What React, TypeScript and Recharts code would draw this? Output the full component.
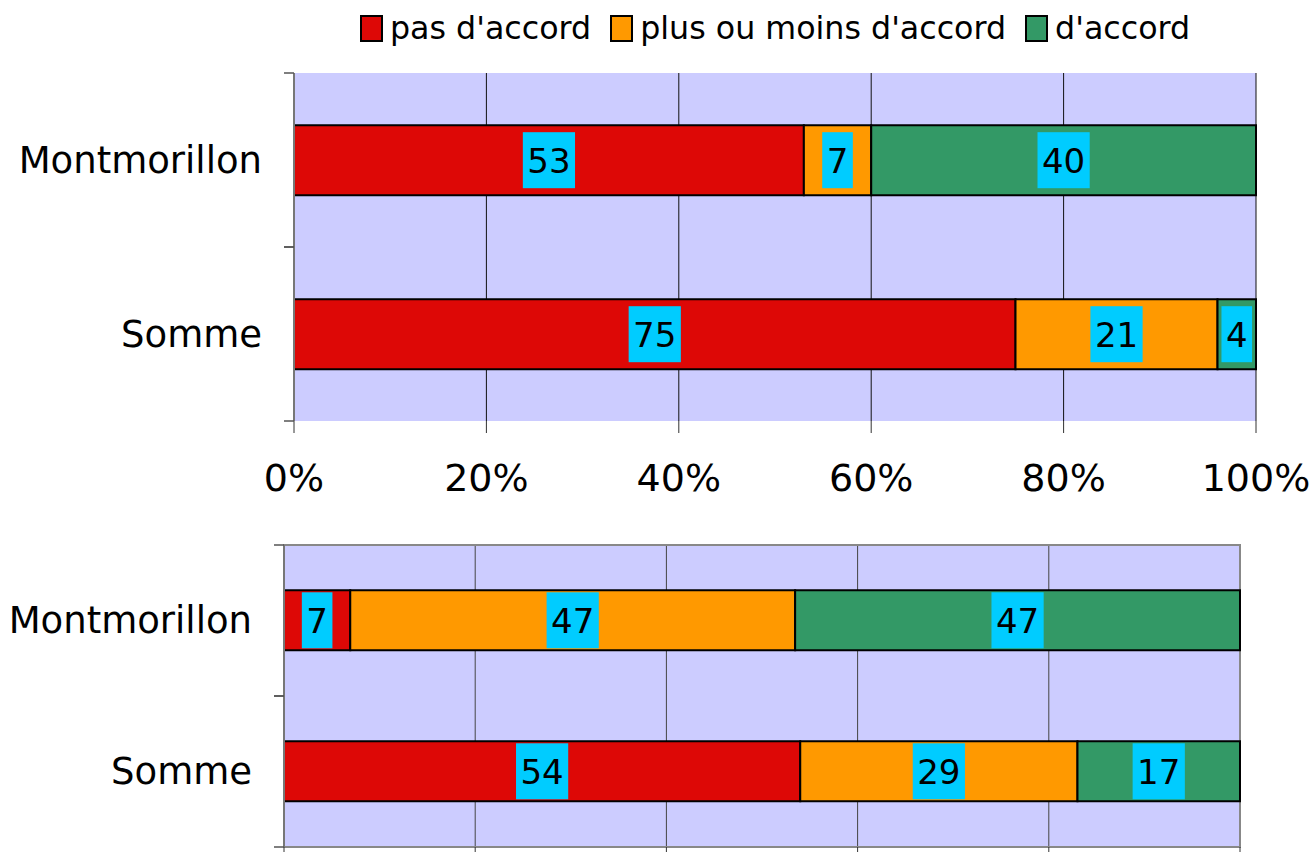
import React from 'react';
import { BarChart, Bar, XAxis, YAxis, CartesianGrid, LabelList, Legend, ReferenceArea } from 'recharts';

const categories = ['Montmorillon', 'Somme'];
const seriesNames = ["pas d'accord", "plus ou moins d'accord", "d'accord"];
const seriesColors = ['#DD0806', '#FF9900', '#339966'];

// top chart
const topPas = [53, 75];
const topPlus = [7, 21];
const topAccord = [40, 4];

// bottom chart
const botPas = [7, 54];
const botPlus = [47, 29];
const botAccord = [47, 17];

const pctTicks = [0, 0.2, 0.4, 0.6, 0.8, 1];

const FONT = '"DejaVu Sans", Verdana, sans-serif';

const buildRows = (a: number[], b: number[], c: number[]) =>
    categories.map((name, i) => ({ name, pas: a[i], plus: b[i], accord: c[i] }));

const topData = buildRows(topPas, topPlus, topAccord);
const botData = buildRows(botPas, botPlus, botAccord);
const keys = ['pas', 'plus', 'accord'];

const ValueBox = (props: any) => {
    const { x, y, width, height, value } = props;
    const text = String(value);
    const w = text.length * 21.6 + 9;
    const h = 56;
    const cx = x + width / 2;
    const cy = y + height / 2;
    return (
        <g>
            <rect x={cx - w / 2} y={cy - h / 2} width={w} height={h} fill="#00CCFF" />
            <text x={cx} y={cy + 1} textAnchor="middle" dominantBaseline="central" fontSize={34} fontFamily={FONT} fill="#000">
                {text}
            </text>
        </g>
    );
};

// category label + small tick marks on the band edges (Excel style)
const CatTick = (props: any) => {
    const { x, y, payload } = props;
    const half = payload && payload.offset ? payload.offset : 0;
    return (
        <g>
            <line x1={x - 10} x2={x} y1={y - half} y2={y - half} stroke="#555" strokeWidth={1.5} />
            <line x1={x - 10} x2={x} y1={y + half} y2={y + half} stroke="#555" strokeWidth={1.5} />
            <text x={x - 32} y={y} textAnchor="end" dominantBaseline="central" fontSize={37} fontFamily={FONT} fill="#000">
                {payload.value}
            </text>
        </g>
    );
};

// bottom chart labels fall outside the page in the reference
const NoLabel = () => <g />;

const LegendBox = () => (
    <div style={{ display: 'flex', alignItems: 'center', fontFamily: FONT, fontSize: 31.7, color: '#000', whiteSpace: 'nowrap' }}>
        {seriesNames.map((s, i) => (
            <div key={s} style={{ display: 'flex', alignItems: 'center', marginRight: 19 }}>
                <span style={{ display: 'inline-block', width: 19, height: 23, background: seriesColors[i], border: '2px solid #000', marginRight: 7 }} />
                <span>{s}</span>
            </div>
        ))}
    </div>
);

const pct = (v: number) => `${Math.round(v * 100)}%`;

function renderBars() {
    return keys.map((k, i) => (
        <Bar key={k} dataKey={k} name={seriesNames[i]} stackId="s" fill={seriesColors[i]} stroke="#000" strokeWidth={2} isAnimationActive={false}>
            <LabelList dataKey={k} content={ValueBox} />
        </Bar>
    ));
}

export default function App() {
    return (
        <div style={{ position: 'absolute', left: 0, top: 0, width: 1315, height: 852, overflow: 'hidden', background: '#fff' }}>
            <div style={{ position: 'absolute', left: 0, top: 0 }}>
                <BarChart width={1315} height={500} data={topData} layout="vertical" stackOffset="expand" barCategoryGap="30%"
                    margin={{ top: 73, right: 59, bottom: 0, left: 0 }}>
                    <CartesianGrid horizontal={false} fill="#CCCCFF" stroke="#111" />
                    <XAxis type="number" domain={[0, 1]} ticks={pctTicks} tickFormatter={pct} height={79}
                        axisLine={false} tickLine={{ stroke: '#333' }} tickSize={12} tickMargin={31}
                        tick={{ fontSize: 38, fill: '#000', fontFamily: FONT }} />
                    <YAxis type="category" dataKey="name" width={294} axisLine={{ stroke: '#777', strokeWidth: 2 }}
                        tickLine={false} tickSize={0} tickMargin={0} tick={CatTick} />
                    <Legend verticalAlign="middle" align="center" layout="horizontal" content={LegendBox}
                        wrapperStyle={{ top: 10, left: 360, width: 920, height: 40 }} />
                    {renderBars()}
                </BarChart>
            </div>
            <div style={{ position: 'absolute', left: 0, top: 500 }}>
                <BarChart width={1315} height={452} data={botData} layout="vertical" stackOffset="expand" barCategoryGap="30%"
                    margin={{ top: 45, right: 75, bottom: 0, left: 0 }}>
                    <CartesianGrid horizontal={false} fill="#CCCCFF" stroke="#444" />
                    <XAxis type="number" domain={[0, 1]} ticks={pctTicks} height={105}
                        axisLine={{ stroke: '#888', strokeWidth: 2 }} tickLine={{ stroke: '#333' }} tickSize={12} tick={NoLabel} />
                    <YAxis type="category" dataKey="name" width={284} axisLine={{ stroke: '#777', strokeWidth: 2 }}
                        tickLine={false} tickSize={0} tickMargin={0} tick={CatTick} />
                    <ReferenceArea x1={0} x2={1} fill="none" stroke="#888" strokeWidth={2} />
                    {renderBars()}
                </BarChart>
            </div>
        </div>
    );
}
